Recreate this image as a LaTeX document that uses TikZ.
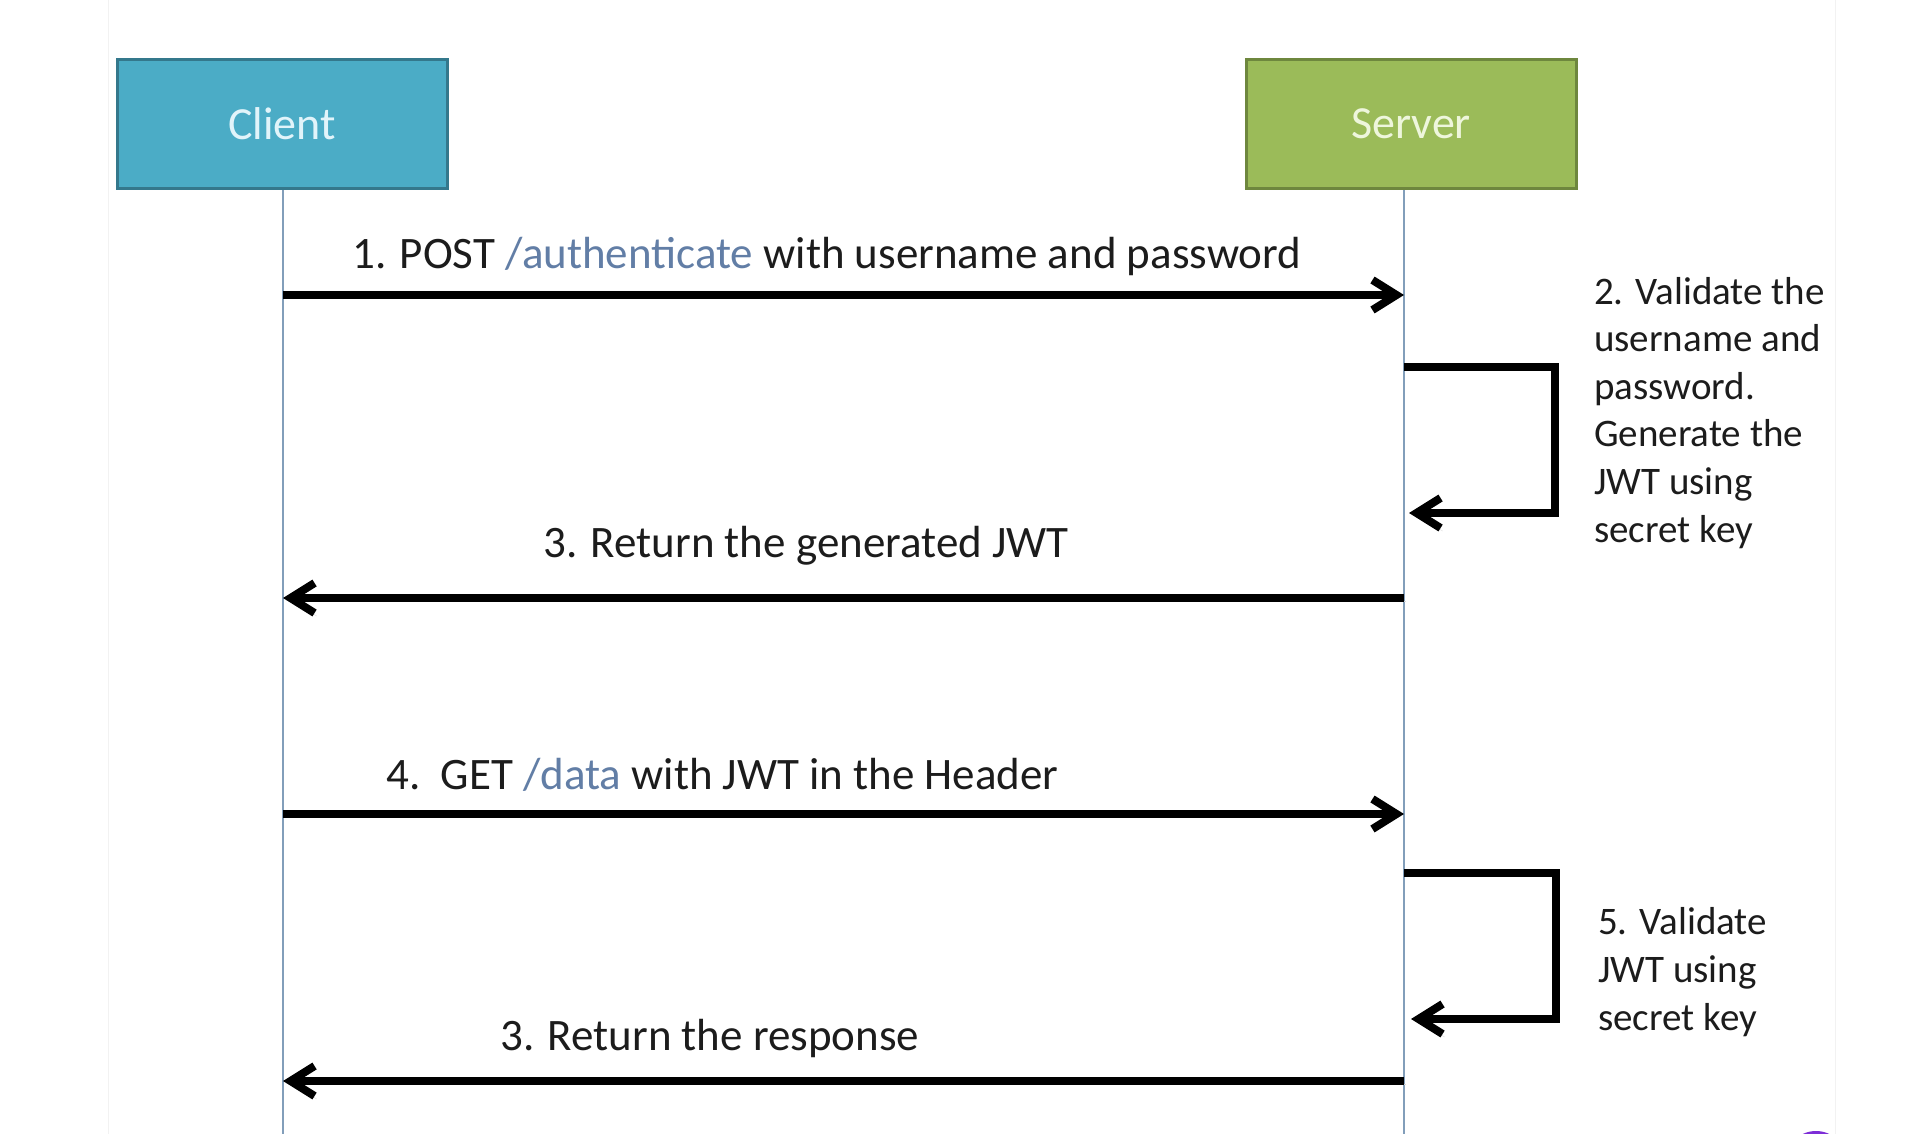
\documentclass[tikz,border=0pt]{standalone}
\usepackage{fontspec}
\setmainfont{Carlito}
\usetikzlibrary{arrows.meta,positioning}

\definecolor{clientblue}{RGB}{75,172,198}
\definecolor{clientedge}{RGB}{52,120,140}
\definecolor{clienttext}{RGB}{225,244,250}
\definecolor{servergreen}{RGB}{155,187,89}
\definecolor{serveredge}{RGB}{110,135,62}
\definecolor{servertext}{RGB}{238,246,220}
\definecolor{lifeblue}{RGB}{130,158,186}
\definecolor{pathblue}{RGB}{98,126,166}
\definecolor{inkgray}{RGB}{28,28,28}
\definecolor{badgepurple}{RGB}{125,45,215}

\begin{document}
\begin{tikzpicture}[x=1pt,y=-1pt,
	actor node/.style={draw,line width=3pt,minimum width=330pt,minimum height=129pt,inner sep=0pt,font=\fontsize{46}{55}\selectfont},
	lifeline/.style={draw=lifeblue,line width=2pt},
	msg/.style={line width=8pt,-{Straight Barb[length=24pt,width=30pt]},
		preaction={draw=black!15,transform canvas={shift={(2pt,-3pt)}}}},
	msg label/.style={anchor=base west,inner sep=0pt,text=inkgray,font=\fontsize{45}{54}\selectfont},
	note/.style={anchor=base west,align=left,inner sep=0pt,text=inkgray,font=\fontsize{39}{47.6}\selectfont}
]
	\useasboundingbox[fill=white] (0,0) rectangle (1908,1134);

	% faint page edges
	\draw[black!5,line width=1pt] (108,0) -- (108,1134);
	\draw[black!5,line width=1pt] (1835,0) -- (1835,1134);

	% actors
	\node[actor node,fill=clientblue,draw=clientedge,text=clienttext] (client) at (282,124) {Client};
	\node[actor node,fill=servergreen,draw=serveredge,text=servertext] (server) at (1411,124) {Server};

	% lifelines
	\coordinate (client top) at (283,190);
	\coordinate (server top) at (1404,190);
	\draw[lifeline] (client top) -- (client top |- 0,1134);
	\draw[lifeline] (server top) -- (server top |- 0,1134);

	% message points on the lifelines
	\foreach \m/\y in {auth/295,token/598,data/814,reply/1081} {
		\coordinate (c-\m) at (client top |- 0,\y);
		\coordinate (s-\m) at (server top |- 0,\y);
	}

	% messages
	\draw[msg] (c-auth) -- (s-auth);
	\draw[msg] (s-token) -- (c-token);
	\draw[msg] (c-data) -- (s-data);
	\draw[msg] (s-reply) -- (c-reply);

	\node[msg label] (auth label) at (352,268) {1. POST \textcolor{pathblue}{/authenticate} with username and password};
	\node[msg label] (token label) at (543,557) {3. Return the generated JWT};
	\node[msg label] (data label) at (386,789) {4.\ \ GET \textcolor{pathblue}{/data} with JWT in the Header};
	\node[msg label] (reply label) at (500,1050) {3. Return the response};

	% self checks on the server
	\coordinate (check1 out) at (server top |- 0,367);
	\coordinate (check1 in) at (1409,513);
	\draw[msg] (check1 out) -- ++(151,0) |- (check1 in);
	\coordinate (check2 out) at (server top |- 0,873);
	\coordinate (check2 in) at (1411,1019);
	\draw[msg] (check2 out) -- ++(152,0) |- (check2 in);

	% notes (base is the last line)
	\node[note] (check1 note) at (1594,542) {2. Validate the\\username and\\password.\\Generate the\\JWT using\\secret key};
	\node[note] (check2 note) at (1598,1030) {5. Validate\\JWT using\\secret key};

	% corner badge
	\fill[badgepurple] (1816,1162) circle (31);
\end{tikzpicture}
\end{document}
